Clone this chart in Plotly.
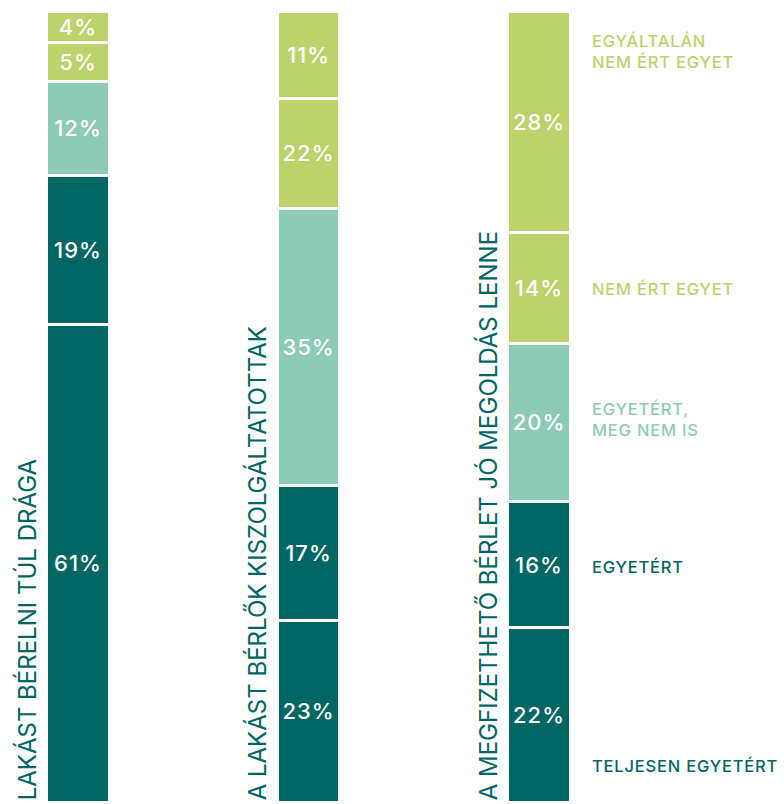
import plotly.graph_objects as go

# Data
categories = ["LAKÁST BÉRELNI TÚL DRÁGA",
              "A LAKÁST BÉRLŐK KISZOLGÁLTATOTTAK",
              "A MEGFIZETHETŐ BÉRLET JÓ MEGOLDÁS LENNE"]
levels = ["TELJESEN EGYETÉRT", "EGYETÉRT", "EGYETÉRT,<br>MEG NEM IS",
          "NEM ÉRT EGYET", "EGYÁLTALÁN<br>NEM ÉRT EGYET"]
# segment sizes per level (bottom to top) for each category
values = {
    "TELJESEN EGYETÉRT": [61, 23, 22],
    "EGYETÉRT": [19, 17, 16],
    "EGYETÉRT,<br>MEG NEM IS": [12, 35, 20],
    "NEM ÉRT EGYET": [5, 14, 14],
    "EGYÁLTALÁN<br>NEM ÉRT EGYET": [4, 11, 28],
}
# printed labels as shown in the chart
labels = {
    "TELJESEN EGYETÉRT": ["61%", "23%", "22%"],
    "EGYETÉRT": ["19%", "17%", "16%"],
    "EGYETÉRT,<br>MEG NEM IS": ["12%", "35%", "20%"],
    "NEM ÉRT EGYET": ["5%", "22%", "14%"],
    "EGYÁLTALÁN<br>NEM ÉRT EGYET": ["4%", "11%", "28%"],
}
legend_y = [4.6, 29.7, 48.3, 64.9, 94.9]

DARK = "#006663"
LIGHT = "#8ECBB7"
GREEN = "#BCD36C"
colors = [DARK, DARK, LIGHT, GREEN, GREEN]
FONT = "Inter"

xpos = list(range(len(categories)))

fig = go.Figure()
for lvl, col in zip(levels, colors):
    fig.add_trace(go.Bar(
        x=xpos, y=values[lvl],
        text=[f'<span style="letter-spacing:1px">{t}</span>' for t in labels[lvl]],
        marker=dict(color=col, line=dict(color="white", width=3)),
        width=0.272,
        textposition="inside", insidetextanchor="middle", textangle=0,
        textfont=dict(color="white", size=22, family=FONT, weight=500),
        constraintext="none",
        hoverinfo="skip", showlegend=False,
    ))

annotations = []
for i, cat in enumerate(categories):
    annotations.append(dict(
        x=xpos[i] - 0.222, y=0, xref="x", yref="y",
        text=cat, textangle=-90, showarrow=False,
        xanchor="center", yanchor="bottom",
        font=dict(color=DARK, size=24, family=FONT),
    ))
for lvl, col, ly in zip(levels, colors, legend_y):
    annotations.append(dict(
        x=2.222, y=ly, xref="x", yref="y",
        text=f'<span style="letter-spacing:0.8px">{lvl}</span>',
        showarrow=False, xanchor="left", yanchor="middle", align="left",
        font=dict(color=col, size=16.5, family=FONT, weight=500),
    ))

fig.update_layout(
    width=784, height=804,
    barmode="stack", barnorm="percent",
    margin=dict(l=0, r=0, t=11, b=2),
    paper_bgcolor="white", plot_bgcolor="white",
    xaxis=dict(range=[-78 / 230.5, (784 - 78) / 230.5], visible=False),
    yaxis=dict(range=[0, 100], visible=False),
    annotations=annotations,
    uniformtext=dict(mode=False),
)

fig.write_html("out.html", config={"displayModeBar": False},
               post_script="document.body.style.margin='0';")
